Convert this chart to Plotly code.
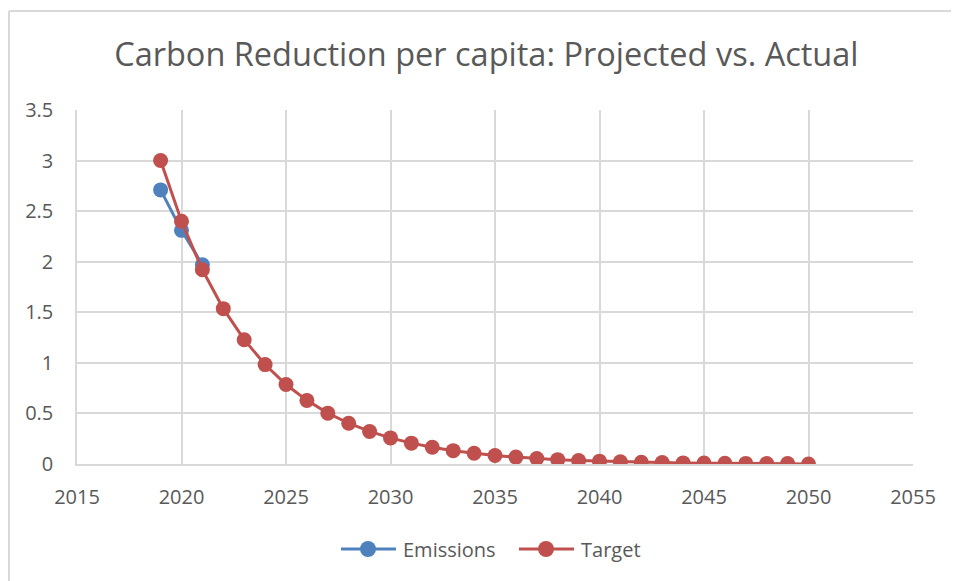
import plotly.graph_objects as go

years_emissions = [2019, 2020, 2021]
emissions = [2.71, 2.31, 1.97]

years_target = list(range(2019, 2051))
target = [3.0, 2.4, 1.92, 1.536, 1.229, 0.983, 0.786, 0.629, 0.503, 0.403,
          0.322, 0.258, 0.206, 0.165, 0.132, 0.106, 0.084, 0.068, 0.054, 0.043,
          0.035, 0.028, 0.022, 0.018, 0.014, 0.011, 0.009, 0.007, 0.006, 0.005,
          0.004, 0.0]

x_ticks = [2015, 2020, 2025, 2030, 2035, 2040, 2045, 2050, 2055]
y_ticks = [0, 0.5, 1, 1.5, 2, 2.5, 3, 3.5]
y_labels = ["0", "0.5", "1", "1.5", "2", "2.5", "3", "3.5"]

series_names = ["Emissions", "Target"]
series_colors = ["#4f81bd", "#c0504d"]

title_text = "Carbon Reduction per capita: Projected vs. Actual"

font_family = "Open Sans, Liberation Sans, sans-serif"
text_color = "#595959"
grid_color = "#d9d9d9"

W, H = 951, 573
L, R, T, B = 69, 46, 102, 117
PW, PH = W - L - R, H - T - B


def px(fx):
    return (fx - L) / PW


def py(fy):
    return 1 - (fy - T) / PH


fig = go.Figure()
fig.add_trace(go.Scatter(
    x=years_emissions, y=emissions, name=series_names[0], mode="lines+markers",
    line=dict(color=series_colors[0], width=3),
    marker=dict(color=series_colors[0], size=15),
))
fig.add_trace(go.Scatter(
    x=years_target, y=target, name=series_names[1], mode="lines+markers",
    line=dict(color=series_colors[1], width=3),
    marker=dict(color=series_colors[1], size=15),
))

# custom legend (Excel-style long line symbols)
legend_y = 541
legend_items = [(333, 388, 360, 393), (511, 566, 538, 571)]
shapes = [
    dict(type="line", xref="paper", yref="paper",
         x0=px(1), x1=px(1), y0=py(3), y1=-2,
         line=dict(color="#d9d9d9", width=2)),
    dict(type="line", xref="paper", yref="paper",
         x0=px(1), x1=2, y0=py(3), y1=py(3),
         line=dict(color="#d9d9d9", width=2)),
]
annotations = []
for (x0, x1, xc, xt), name, col in zip(legend_items, series_names, series_colors):
    shapes.append(dict(type="line", xref="paper", yref="paper",
                       x0=px(x0), x1=px(x1), y0=py(legend_y), y1=py(legend_y),
                       line=dict(color=col, width=3)))
    shapes.append(dict(type="circle", xref="paper", yref="paper",
                       x0=px(xc - 8), x1=px(xc + 8),
                       y0=py(legend_y + 8), y1=py(legend_y - 8),
                       fillcolor=col, line=dict(color=col, width=0)))
    annotations.append(dict(text=name, xref="paper", yref="paper",
                            x=px(xt), y=py(legend_y), xanchor="left", yanchor="middle",
                            showarrow=False,
                            font=dict(family=font_family, size=20, color=text_color)))

fig.update_layout(
    width=W, height=H,
    paper_bgcolor="white", plot_bgcolor="white",
    margin=dict(l=L, r=R, t=T, b=B),
    title=dict(text=title_text, x=0.503, xanchor="center", y=0.918, yanchor="middle",
               font=dict(family=font_family, size=32.5, color=text_color)),
    font=dict(family=font_family, size=20, color=text_color),
    showlegend=False,
    xaxis=dict(range=[2015, 2055], tickmode="array", tickvals=x_ticks,
               ticktext=[str(v) for v in x_ticks],
               showgrid=True, gridcolor=grid_color, gridwidth=1.5,
               showline=True, linecolor=grid_color, linewidth=1.5,
               zeroline=False, ticks="outside", ticklen=14, tickcolor="rgba(0,0,0,0)",
               tickfont=dict(size=20, color=text_color)),
    yaxis=dict(range=[0, 3.5], tickmode="array", tickvals=y_ticks,
               ticktext=y_labels,
               showgrid=True, gridcolor=grid_color, gridwidth=1.5,
               showline=True, linecolor=grid_color, linewidth=1.5,
               zeroline=False, ticks="outside", ticklen=18, tickcolor="rgba(0,0,0,0)",
               tickfont=dict(size=20, color=text_color)),
    shapes=shapes,
    annotations=annotations,
)

fig.write_html("out.html")
